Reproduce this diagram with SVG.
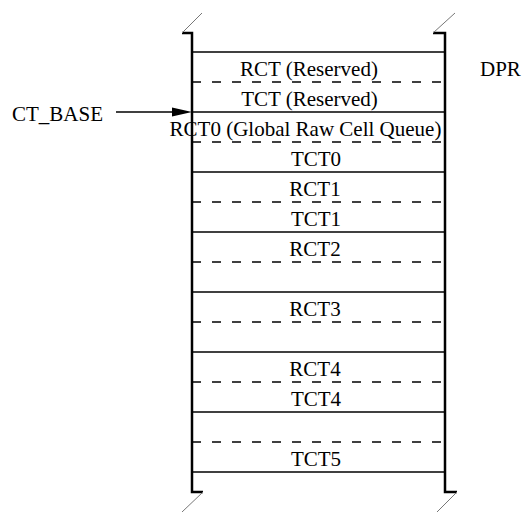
<svg xmlns="http://www.w3.org/2000/svg" width="522" height="512" viewBox="0 0 522 512">
<style>
text{font-family:"Liberation Serif","Times New Roman",serif;font-size:21px;fill:#000}
.c{text-anchor:middle}
.solid{stroke:#000;stroke-width:1.3;fill:none}
.dash{stroke:#000;stroke-width:1.3;fill:none;stroke-dasharray:9 11}
.wall{stroke:#000;stroke-width:2.5;fill:none}
.brk{stroke:#777;stroke-width:1;fill:none}
</style>
<rect width="522" height="512" fill="#fff"/>
<g id="rows">
<line class="solid" x1="192" y1="52" x2="445" y2="52"/>
<line class="dash" x1="192" y1="82" x2="445" y2="82"/>
<line class="solid" x1="192" y1="112" x2="445" y2="112"/>
<line class="dash" x1="192" y1="142" x2="445" y2="142"/>
<line class="solid" x1="192" y1="172" x2="445" y2="172"/>
<line class="dash" x1="192" y1="202" x2="445" y2="202"/>
<line class="solid" x1="192" y1="232" x2="445" y2="232"/>
<line class="dash" x1="192" y1="262" x2="445" y2="262"/>
<line class="solid" x1="192" y1="292" x2="445" y2="292"/>
<line class="dash" x1="192" y1="322" x2="445" y2="322"/>
<line class="solid" x1="192" y1="352" x2="445" y2="352"/>
<line class="dash" x1="192" y1="382" x2="445" y2="382"/>
<line class="solid" x1="192" y1="412" x2="445" y2="412"/>
<line class="dash" x1="192" y1="442" x2="445" y2="442"/>
<line class="solid" x1="192" y1="472" x2="445" y2="472"/>
</g>
<g id="rct-reserved"><text class="c" x="309" y="76">RCT (Reserved)</text></g>
<g id="tct-reserved"><text class="c" x="309.5" y="106">TCT (Reserved)</text></g>
<g id="rct0"><text class="c" x="305.5" y="136">RCT0 (Global Raw Cell Queue)</text></g>
<g id="tct0"><text class="c" x="316" y="166">TCT0</text></g>
<g id="rct1"><text class="c" x="315" y="196">RCT1</text></g>
<g id="tct1"><text class="c" x="316" y="226">TCT1</text></g>
<g id="rct2"><text class="c" x="315" y="256">RCT2</text></g>
<g id="rct3"><text class="c" x="315" y="316">RCT3</text></g>
<g id="rct4"><text class="c" x="315" y="376">RCT4</text></g>
<g id="tct4"><text class="c" x="316" y="406">TCT4</text></g>
<g id="tct5"><text class="c" x="316" y="466">TCT5</text></g>
<g id="dpr"><text x="480" y="76">DPR</text></g>
<g id="ct-base"><text x="103" y="121" text-anchor="end">CT_BASE</text></g>
<g id="frame">
<polyline class="wall" points="182,33 192,33 192,492 203,492"/>
<polyline class="wall" points="433,33 445,33 445,492 457,492"/>
<line class="brk" x1="182" y1="33" x2="202" y2="13"/>
<line class="brk" x1="433" y1="33" x2="455" y2="13"/>
<line class="brk" x1="203" y1="492" x2="182" y2="512"/>
<line class="brk" x1="457" y1="492" x2="437" y2="512"/>
</g>
<g id="connectors">
<line x1="116" y1="112" x2="175" y2="112" stroke="#000" stroke-width="1.3"/>
<polygon points="192,112 172,107.5 172,116.5" fill="#000"/>
</g>
</svg>
